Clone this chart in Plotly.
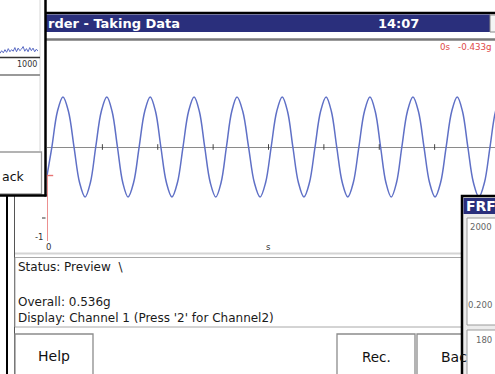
import plotly.graph_objects as go

W, H = 495, 374

# ---------------- data ----------------
# main trace: acceleration (g) vs time (s); extremes, zero crossings and shoulders
extreme_t = [0.036, 0.086, 0.135, 0.183, 0.233, 0.282, 0.332, 0.381, 0.429, 0.481,
             0.531, 0.580, 0.630, 0.679, 0.729, 0.777, 0.826, 0.876, 0.926, 0.975, 1.025]
extreme_g = [0.76, -0.76, 0.76, -0.76, 0.76, -0.76, 0.76, -0.76, 0.76, -0.76,
             0.76, -0.76, 0.76, -0.76, 0.76, -0.76, 0.76, -0.76, 0.76, -0.76, 0.76]
zero_t = [0.011, 0.061, 0.110, 0.159, 0.208, 0.257, 0.307, 0.356, 0.405, 0.455,
          0.506, 0.555, 0.605, 0.654, 0.704, 0.753, 0.801, 0.851, 0.901, 0.950, 1.000]
shoulder_t = [0.0235, 0.0485, 0.0735, 0.098, 0.1225, 0.147, 0.171, 0.1955, 0.2205, 0.245,
              0.2695, 0.2945, 0.3195, 0.344, 0.3685, 0.393, 0.417, 0.442, 0.468, 0.4935,
              0.5185, 0.543, 0.5675, 0.5925, 0.6175, 0.642, 0.6665, 0.6915, 0.7165, 0.741,
              0.765, 0.789, 0.8135, 0.8385, 0.8635, 0.8885, 0.9135, 0.938, 0.9625, 0.9875, 1.0125]
shoulder_g = [0.54, 0.54, -0.54, -0.54, 0.54, 0.54, -0.54, -0.54, 0.54, 0.54,
              -0.54, -0.54, 0.54, 0.54, -0.54, -0.54, 0.54, 0.54, -0.54, -0.54,
              0.54, 0.54, -0.54, -0.54, 0.54, 0.54, -0.54, -0.54, 0.54, 0.54,
              -0.54, -0.54, 0.54, 0.54, -0.54, -0.54, 0.54, 0.54, -0.54, -0.54, 0.54]
start_t, start_g = 0.0, -0.433
div_ticks = [0.125, 0.25, 0.375, 0.5, 0.625, 0.75, 0.875]
cursor_t, cursor_g = 0.0, -0.433

# small spectrum in the window at the left
spec_x = list(range(24))
spec_y = [0.35, 0.6, 0.4, 0.7, 0.45, 0.8, 0.5, 0.7, 0.55, 0.9, 0.5, 0.85, 0.6,
          0.75, 1.0, 0.55, 0.8, 0.5, 0.9, 0.6, 0.85, 0.5, 0.75, 0.55]

status_lines = ["Status: Preview  \\", "Overall: 0.536g", "Display: Channel 1 (Press '2' for Channel2)"]

# ---------------- helpers ----------------
def X(p):
    return p / W

def Y(p):
    return 1 - p / H

pts = ([(start_t, start_g)] + list(zip(extreme_t, extreme_g)) + [(t, 0.0) for t in zero_t]
       + list(zip(shoulder_t, shoulder_g)))
pts.sort()
t_vals = [p[0] for p in pts]
g_vals = [p[1] for p in pts]

NAVY = "#2a2f7c"
FONT = "DejaVu Sans, Verdana, sans-serif"

fig = go.Figure()

fig.add_trace(go.Scatter(x=t_vals, y=g_vals, mode="lines",
                         line=dict(color="#5f70c6", width=1.5, shape="spline", smoothing=1.0),
                         xaxis="x", yaxis="y", hoverinfo="skip"))
fig.add_trace(go.Scatter(x=div_ticks, y=[0] * len(div_ticks), mode="markers",
                         marker=dict(symbol="line-ns", size=4, line=dict(color="#444", width=1)),
                         xaxis="x", yaxis="y", hoverinfo="skip"))
fig.add_trace(go.Scatter(x=[cursor_t, cursor_t], y=[cursor_g, -1.43], mode="lines",
                         line=dict(color="#e87474", width=1.6), xaxis="x", yaxis="y",
                         hoverinfo="skip", cliponaxis=False))
fig.add_trace(go.Scatter(x=[cursor_t, cursor_t + 0.014], y=[cursor_g, cursor_g], mode="lines",
                         line=dict(color="#e87474", width=1.4), xaxis="x", yaxis="y",
                         hoverinfo="skip", cliponaxis=False))
fig.add_trace(go.Scatter(x=spec_x, y=spec_y, mode="lines",
                         line=dict(color="#5b6cc4", width=1), xaxis="x2", yaxis="y2",
                         hoverinfo="skip"))

shapes = []

def line(x0, y0, x1, y1, color, width):
    shapes.append(dict(type="line", xref="paper", yref="paper", x0=X(x0), y0=Y(y0),
                       x1=X(x1), y1=Y(y1), line=dict(color=color, width=width), layer="above"))

def rect(x0, y0, x1, y1, fill, color=None, width=0):
    shapes.append(dict(type="rect", xref="paper", yref="paper", x0=X(x0), y0=Y(y0),
                       x1=X(x1), y1=Y(y1), fillcolor=fill,
                       line=dict(color=color or fill, width=width), layer="above"))

# main window
line(46, 13, 497, 13, "#000", 2.5)
rect(46, 14.5, 490, 32, NAVY)
rect(490, 15, 498, 32, "#f4f4f4", "#888", 1)
line(46, 39.5, 497, 39.5, "#7a7a7a", 2.5)
line(7, 195, 7, 380, "#000", 2)
line(14.5, 195, 14.5, 380, "#555", 1)
line(42, 218, 45.5, 218, "#333", 1)
line(15, 253.5, 470, 253.5, "#d4d4d4", 2)
rect(15, 257.5, 470, 327, "#fff", "#a8a8a8", 1)
rect(15, 334, 93, 380, "#fff", "#8c8c8c", 1.3)
rect(337, 334, 415, 380, "#fff", "#8c8c8c", 1.3)
rect(417, 334, 470, 380, "#fff", "#8c8c8c", 1.3)

# left window
line(40, 0, 40, 151, "#d6d6d6", 1)
line(0, 57.5, 40, 57.5, "#333", 1.3)
line(0, 75, 40, 75, "#999", 2)
rect(-3, 152, 41.5, 194, "#fff", "#9a9a9a", 1.3)
line(45.5, -2, 45.5, 196.5, "#000", 2.5)
line(-2, 195.5, 46.5, 195.5, "#000", 2.5)

# FRF window
rect(462, 196, 500, 380, "#ececec", "#000", 2.5)
rect(463.5, 198, 497, 214, NAVY)
rect(467, 218, 500, 325, "#fff", "#9a9a9a", 1)
rect(467, 330, 500, 380, "#fff", "#9a9a9a", 1)

ann = []

def text(x, y, s, size=12, color="#1a1a1a", anchor="left", bold=False, family=FONT):
    ann.append(dict(xref="paper", yref="paper", x=X(x), y=Y(y), text=("<b>%s</b>" % s) if bold else s,
                    showarrow=False, xanchor=anchor, yanchor="middle",
                    font=dict(family=family, size=size, color=color)))

text(46, 23.5, "rder - Taking Data", 13, "#fff", bold=True)
text(398, 23.5, "14:07", 13, "#fff", "center", bold=True)
text(453, 47, "0s", 8.7, "#e04a4a", "right")
text(494, 47, "-0.433g", 8.7, "#e04a4a", "right")
text(39, 237, "-1", 8.5, "#333", "center")
text(48, 247, "0", 8.5, "#333", "center")
text(268, 247, "s", 8.5, "#333", "center")
text(16, 267, status_lines[0], 12)
text(16, 301.5, status_lines[1], 12)
text(16, 317.5, status_lines[2], 12)
text(54, 356, "Help", 14, "#111", "center")
text(376, 357, "Rec.", 13.5, "#111", "center")
text(439, 357, "Bac", 14, "#111")
text(38.5, 64.5, "1000", 8, "#333", "right")
text(0, 176, "ack", 12.5, "#111", "left")
text(463.5, 206, "FRF", 14, "#fff", bold=True)
text(468, 227, "2000", 8.5, "#666")
text(466, 305, "0.200", 8.5, "#666")
text(474, 340, "180", 8.5, "#666")

fig.update_layout(
    width=W, height=H, margin=dict(l=0, r=0, t=0, b=0),
    paper_bgcolor="#fff", plot_bgcolor="#fff", showlegend=False,
    xaxis=dict(domain=[X(47), X(495)], range=[0, 448 / 443], visible=False),
    yaxis=dict(domain=[Y(255), Y(41)], range=[-1.641, 1.611], showgrid=False,
               showticklabels=False, ticks="", showline=False,
               zeroline=True, zerolinecolor="#8a8a8a", zerolinewidth=1.3),
    xaxis2=dict(domain=[0, X(38)], range=[0, 23], visible=False, anchor="y2"),
    yaxis2=dict(domain=[Y(57), Y(46)], range=[0, 1.05], visible=False, anchor="x2"),
    shapes=shapes, annotations=ann,
)

fig.write_html("out.html", config={"displayModeBar": False},
               post_script="document.body.style.margin='0px';document.body.style.overflow='hidden';")
